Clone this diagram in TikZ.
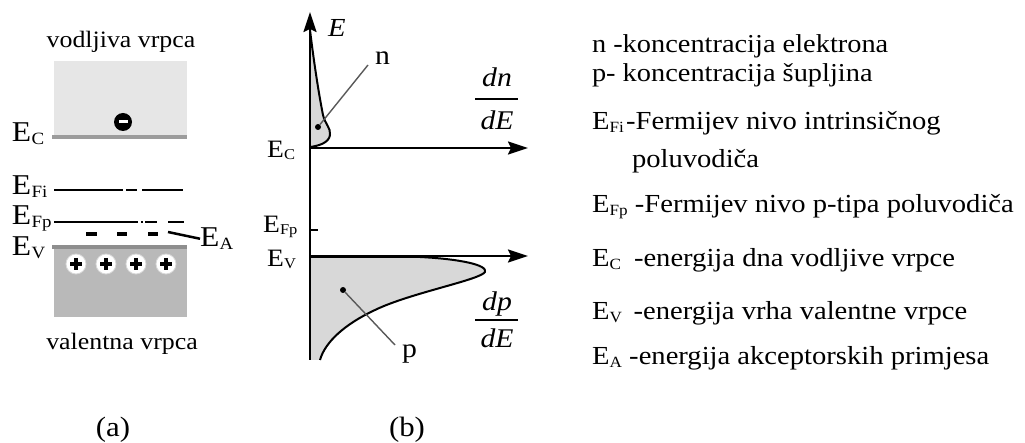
\documentclass[tikz,border=0pt]{standalone}
\usepackage{fontspec}
\setmainfont{Liberation Serif}
\usepackage{graphicx}
\usetikzlibrary{arrows.meta}
\definecolor{cbfill}{HTML}{E6E6E6}
\definecolor{vbfill}{HTML}{B9B9B9}
\definecolor{cedge}{HTML}{9C9C9C}
\definecolor{vedge}{HTML}{8E8E8E}
\definecolor{dosfill}{HTML}{D8D8D8}
\newcommand\myfs[1]{\fontsize{#1}{#1}\selectfont}
\newcommand\wide[1]{\scalebox{1.1}[1]{#1}}
\newcommand\Esb[1]{E\kern0.2pt\raisebox{-0.08em}{\scalebox{0.6}{#1}}}
\begin{document}
\begin{tikzpicture}[x=1pt,y=-1pt,
  lbl/.style={inner sep=0pt, outer sep=0pt, anchor=base west},
  clbl/.style={inner sep=0pt, outer sep=0pt, anchor=base},
  axisline/.style={line width=2pt, -{Stealth[length=20pt,width=13pt,inset=3pt]}},
  dosline/.style={line width=2pt, line join=round},
  level/.style={line width=1.7pt},
  accdash/.style={line width=4pt},
  pointer/.style={line width=1.4pt, black!65},
  dotnode/.style={circle, fill=black, inner sep=0pt, minimum size=6pt},
  bandedge/.style={line width=4pt}]
\useasboundingbox (0,0) rectangle (1025,443);

% ---------------- (a) ----------------
\fill[cbfill] (54,61) rectangle (187,137);
\draw[bandedge, cedge] (52,137) -- (187,137);
\fill[vbfill] (54,247) rectangle (187,317);
\draw[bandedge, vedge] (52,247) -- (187,247);

% electron
\node[circle, fill=black, minimum size=18pt, inner sep=0pt] (el) at (123,122) {};
\fill[white] (118.5,120.5) rectangle (127.5,123.5);

% holes
\foreach \hx [count=\i] in {76,106,136,166}{
  \node[circle, fill=white, draw=black!15, line width=0.8pt, minimum size=20pt, inner sep=0pt] (h\i) at (\hx,264) {};
  \draw[line width=3.2pt] (\hx-6,264) -- (\hx+6,264) (\hx,258) -- (\hx,270);
}

% Fermi levels
\draw[level] (54,190) -- (123,190) (126,190) -- (137,190) (142,190) -- (183,190);
\draw[level] (54,222) -- (138,222) (141,222) -- (143,222) (145,222) -- (157,222) (168,222) -- (184,222);

% acceptor levels
\draw[accdash] (86,234) -- (97,234) (117,234) -- (127,234) (148,234) -- (158,234);
\coordinate (ea0) at (168,232);

\node[clbl] (vod) at (121,48) {\myfs{23.5}\wide{vodljiva vrpca}};
\node[lbl] (aEC) at (12,142) {\myfs{28.7}\wide{\Esb{C}}};
\node[lbl] (aEFi) at (12,195) {\myfs{28.7}\wide{\Esb{Fi}}};
\node[lbl] (aEFp) at (12,225) {\myfs{28.7}\wide{\Esb{Fp}}};
\node[lbl] (aEV) at (12,256) {\myfs{28.7}\wide{\Esb{V}}};
\node[lbl] (aEA) at (200,247) {\myfs{28.7}\wide{\Esb{A}}};
\draw[line width=2.5pt] (ea0) -- (aEA.west);
\node[clbl] (val) at (122,350) {\myfs{23.5}\wide{valentna vrpca}};
\node[clbl] (capa) at (113,436) {\myfs{28}\wide{(a)}};

% ---------------- (b) ----------------
% n distribution
\fill[dosfill] (310,147) .. controls (318,146) and (329,143) .. (330,135)
  .. controls (331,128) and (325,124) .. (323,115)
  .. controls (318,90) and (313,55) .. (310,30) -- cycle;
\draw[dosline] (310,147) .. controls (318,146) and (329,143) .. (330,135)
  .. controls (331,128) and (325,124) .. (323,115)
  .. controls (318,90) and (313,55) .. (310,30);
% p distribution
\fill[dosfill] (310,256) -- (420,257) .. controls (460,259) and (488,265) .. (485,272)
  .. controls (480,280) and (410,293) .. (375,310)
  .. controls (345,324) and (325,342) .. (320,360) -- (310,360) -- cycle;
\draw[dosline] (310,257) -- (420,257) .. controls (460,259) and (488,265) .. (485,272)
  .. controls (480,280) and (410,293) .. (375,310)
  .. controls (345,324) and (325,342) .. (320,360);

% axes
\coordinate (O) at (310,360);
\coordinate (Etop) at (310,12);
\coordinate (EC) at (310,148);
\coordinate (ECend) at (528,148);
\coordinate (EV) at (310,256);
\coordinate (EVend) at (528,256);
\coordinate (tick0) at (310,230);
\coordinate (tick1) at (318,230);
\draw[axisline] (O) -- (Etop);
\draw[axisline] (EC) -- (ECend);
\draw[axisline] (EV) -- (EVend);
\draw[line width=2pt] (tick0) -- (tick1);

\node[lbl] (Elab) at (328,37) {\myfs{26}\wide{\itshape E}};
% dn/dE
\node[clbl] (dn) at (497,87) {\myfs{27}\wide{\itshape dn}};
\node[clbl] (dE1) at (497,130) {\myfs{27}\wide{\itshape dE}};
\coordinate (f1a) at (475,99);
\coordinate (f1b) at (518,99);
\draw[line width=1.3pt] (f1a) -- (f1b);
% dp/dE
\node[clbl] (dp) at (497,311) {\myfs{27}\wide{\itshape dp}};
\node[clbl] (dE2) at (497,348) {\myfs{27}\wide{\itshape dE}};
\coordinate (f2a) at (475,320);
\coordinate (f2b) at (518,320);
\draw[line width=1.3pt] (f2a) -- (f2b);

\node[lbl] (bEC) at (267,158) {\myfs{25}\wide{\Esb{C}}};
\node[lbl] (bEFp) at (263,233) {\myfs{25}\wide{\Esb{Fp}}};
\node[lbl] (bEV) at (267,267) {\myfs{25}\wide{\Esb{V}}};

% n and p pointers
\node[dotnode] (ndot) at (318,127) {};
\coordinate (nend) at (368,65);
\draw[pointer] (ndot) -- (nend);
\node[lbl] (nlab) at (375,65) {\myfs{27}\wide{n}};
\node[dotnode] (pdot) at (343,290) {};
\coordinate (pend) at (395,345);
\draw[pointer] (pdot) -- (pend);
\node[lbl] (plab) at (402,358) {\myfs{27}\wide{p}};

\node[clbl] (capb) at (407,436) {\myfs{28}\wide{(b)}};

% ---------------- legend ----------------
\node[lbl] (L1) at (592,53) {\myfs{25.8}\wide{n -koncentracija elektrona}};
\node[lbl] (L2) at (592,82) {\myfs{25.8}\wide{p- koncentracija šupljina}};
\node[lbl] (L3) at (592,130) {\myfs{26}\wide{\Esb{Fi}\kern2pt-Fermijev nivo intrinsičnog}};
\node[lbl] (L4) at (632,168) {\myfs{26}\wide{poluvodiča}};
\node[lbl] (L5) at (592,213) {\myfs{26}\wide{\Esb{Fp} -Fermijev nivo p-tipa poluvodiča}};
\node[lbl] (L6) at (592,267) {\myfs{26}\wide{\Esb{C}\hspace{0.45em}-energija dna vodljive vrpce}};
\node[lbl] (L7) at (592,320) {\myfs{26}\wide{\Esb{V}\hspace{0.4em}-energija vrha valentne vrpce}};
\node[lbl] (L8) at (592,365) {\myfs{26}\wide{\Esb{A} -energija akceptorskih primjesa}};
\end{tikzpicture}
\end{document}
